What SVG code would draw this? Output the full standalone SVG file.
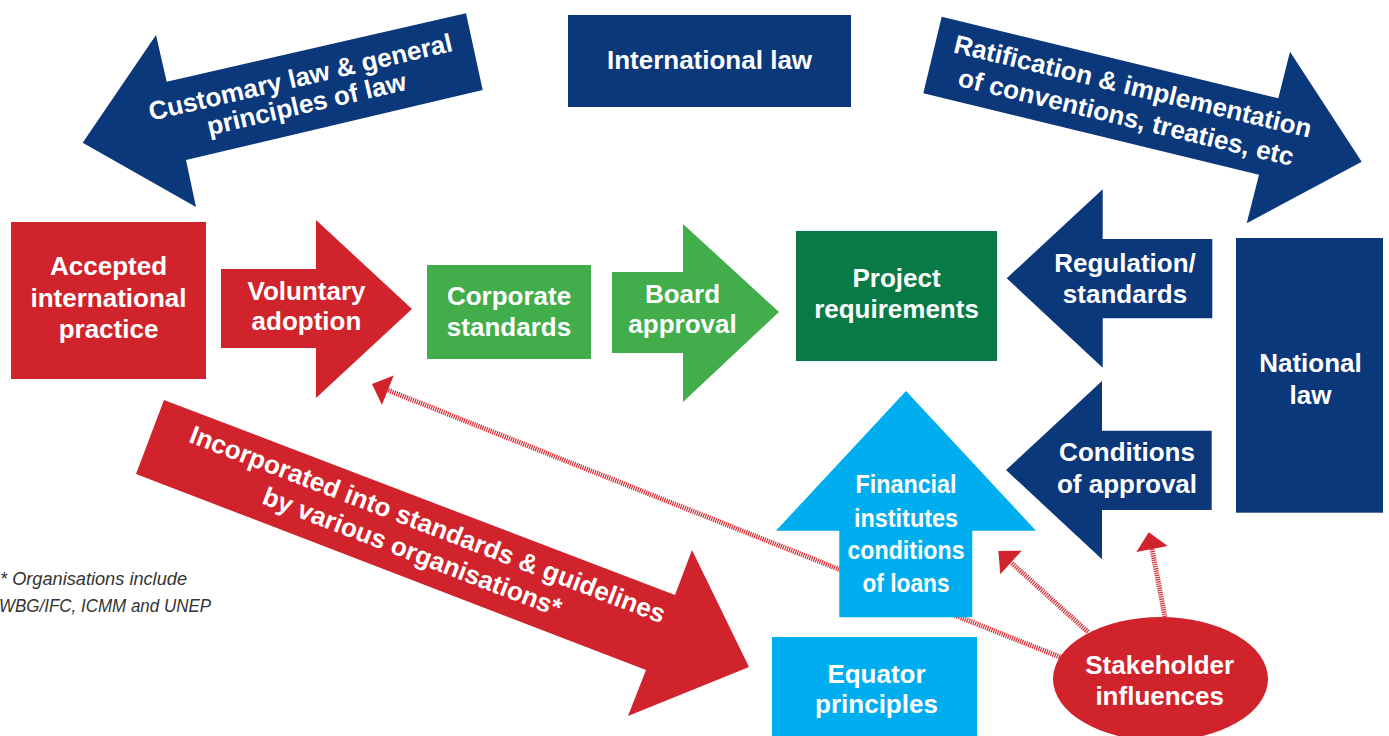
<svg xmlns="http://www.w3.org/2000/svg" width="1389" height="736" viewBox="0 0 1389 736">
<defs>
<style>
.navy{fill:#0b377b}
.red{fill:#d1232b}
.lgreen{fill:#42ad4b}
.dgreen{fill:#087a45}
.cyan{fill:#00aeef}
.lbl{font-family:"Liberation Sans",Arial,sans-serif;font-weight:bold;font-size:26px;fill:#ffffff;text-anchor:middle}
.note{font-family:"Liberation Sans",Arial,sans-serif;font-style:italic;font-size:19px;fill:#333333}
.hatch{fill:none;stroke:#d42a32;stroke-width:5;stroke-dasharray:1.2 1}
</style>
<marker id="head" markerUnits="userSpaceOnUse" markerWidth="20" markerHeight="34" viewBox="0 -16 18 32" refX="0" refY="0" orient="auto">
<path d="M0,-15 L16,0 L0,15 Z" fill="#d1232b"/>
</marker>
</defs>
<rect width="1389" height="736" fill="#ffffff"/>

<g id="connectors">
<line class="hatch" x1="1060" y1="657" x2="387.8" y2="390.2" marker-end="url(#head)"/>
<line class="hatch" x1="1088" y1="632" x2="1011" y2="562.5" marker-end="url(#head)"/>
<line class="hatch" x1="1165" y1="617" x2="1152" y2="549" marker-end="url(#head)"/>
</g>

<g id="customary-law">
<polygon class="navy" points="82.7,142.7 156,35 166.7,81.7 466,13.3 482.7,90 186,160 196,207"/>
<g transform="translate(305,100) rotate(-13)">
<text class="lbl" x="0.6" y="-14.4">Customary law &amp; general</text>
<text class="lbl" x="0.5" y="13">principles of law</text>
</g>
</g>

<g id="international-law">
<rect class="navy" x="568" y="15" width="283" height="92"/>
<text class="lbl" x="709.5" y="69">International law</text>
</g>

<g id="ratification">
<polygon class="navy" points="941.7,16.7 1278.3,98.3 1290,51.7 1361.7,161.7 1246.7,223.3 1259,174.8 923.3,93.3"/>
<g transform="translate(1127.4,110.4) rotate(13.5)">
<text class="lbl" x="-0.3" y="-15.8">Ratification &amp; implementation</text>
<text class="lbl" x="0.3" y="15.8">of conventions, treaties, etc</text>
</g>
</g>

<g id="accepted-practice">
<rect class="red" x="11" y="222" width="195" height="157"/>
<text class="lbl" x="108.5" y="275">Accepted</text>
<text class="lbl" x="108.5" y="306.5">international</text>
<text class="lbl" x="108.5" y="338">practice</text>
</g>

<g id="voluntary-adoption">
<polygon class="red" points="221,269 316,269 316,220 412,309 316,398 316,348 221,348"/>
<text class="lbl" x="306.5" y="300">Voluntary</text>
<text class="lbl" x="306.5" y="330">adoption</text>
</g>

<g id="corporate-standards">
<rect class="lgreen" x="427" y="265" width="164" height="94"/>
<text class="lbl" x="509" y="305">Corporate</text>
<text class="lbl" x="509" y="336">standards</text>
</g>

<g id="board-approval">
<polygon class="lgreen" points="612,272 683,272 683,224 779,312 683,402 683,353 612,353"/>
<text class="lbl" x="682.5" y="302.7">Board</text>
<text class="lbl" x="682.5" y="332.7">approval</text>
</g>

<g id="project-requirements">
<rect class="dgreen" x="796" y="231" width="201" height="130"/>
<text class="lbl" x="896.5" y="287">Project</text>
<text class="lbl" x="896.5" y="318">requirements</text>
</g>

<g id="regulation-standards">
<polygon class="navy" points="1006.7,278.3 1102.7,189.3 1102.7,239 1212.3,239 1212.3,318.3 1102.7,318.3 1102.7,367.7"/>
<text class="lbl" x="1125" y="271.7">Regulation/</text>
<text class="lbl" x="1125" y="303.3">standards</text>
</g>

<g id="conditions-of-approval">
<polygon class="navy" points="1006,470 1102,381 1102,430.7 1211.7,430.7 1211.7,510 1102,510 1102,559.3"/>
<text class="lbl" x="1127" y="461">Conditions</text>
<text class="lbl" x="1127" y="492.7">of approval</text>
</g>

<g id="national-law">
<rect class="navy" x="1236" y="238" width="147" height="274.7"/>
<text class="lbl" x="1310.5" y="372.3">National</text>
<text class="lbl" x="1310.5" y="404">law</text>
</g>

<g id="financial-institutes">
<polygon class="cyan" points="906,391 1036,530.7 972.3,530.7 972.3,617.3 839.3,617.3 839.3,530.7 776,530.7"/>
<text class="lbl" x="906" y="493.3" textLength="101" lengthAdjust="spacingAndGlyphs">Financial</text>
<text class="lbl" x="906" y="526.7" textLength="104" lengthAdjust="spacingAndGlyphs">institutes</text>
<text class="lbl" x="906" y="559" textLength="117" lengthAdjust="spacingAndGlyphs">conditions</text>
<text class="lbl" x="906" y="592.3" textLength="87" lengthAdjust="spacingAndGlyphs">of loans</text>
</g>

<g id="equator-principles">
<rect class="cyan" x="772" y="637" width="205" height="104"/>
<text class="lbl" x="876.5" y="683.3">Equator</text>
<text class="lbl" x="876.5" y="713.3">principles</text>
</g>

<g id="incorporated">
<polygon class="red" points="164,400 675,595 692,550 749,667 628,716 646,670 136,474"/>
<g transform="translate(416.8,546.3) rotate(21)">
<text class="lbl" x="2.2" y="-15.6">Incorporated into standards &amp; guidelines</text>
<text class="lbl" x="-2.2" y="15.6">by various organisations*</text>
</g>
</g>

<g id="stakeholder-influences">
<ellipse class="red" cx="1160.5" cy="679" rx="107.5" ry="62"/>
<text class="lbl" x="1159.7" y="674">Stakeholder</text>
<text class="lbl" x="1159.7" y="705">influences</text>
</g>

<g id="footnote">
<text class="note" x="0" y="585" textLength="187" lengthAdjust="spacingAndGlyphs">* Organisations include</text>
<text class="note" x="-1" y="612" textLength="212" lengthAdjust="spacingAndGlyphs">WBG/IFC, ICMM and UNEP</text>
</g>
</svg>
